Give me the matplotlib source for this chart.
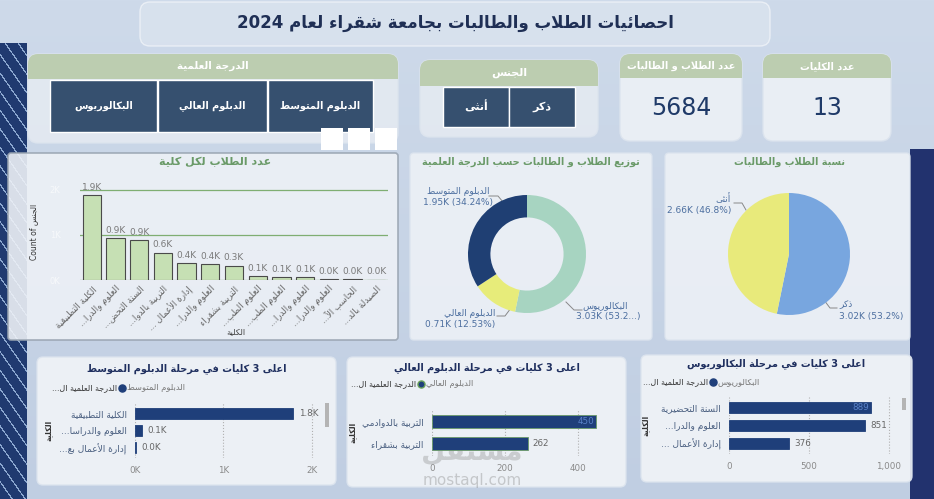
import numpy as np
import matplotlib
matplotlib.use('Agg')
import matplotlib.pyplot as plt
from matplotlib.patches import FancyBboxPatch, Rectangle

W, H = 934, 499

# ---- data ----
colleges = ['الكلية التطبيقية', 'العلوم والدرا...', 'السنة التحض...', 'التربية بالدوا...',
            'إدارة الأعمال ...', 'العلوم والدرا...', 'التربية بشقراء', 'العلوم الطب...',
            'العلوم الطب...', 'العلوم والدرا...', 'العلوم والدرا...', 'الحاسب الآ...', 'الصيدلة بالد...']
college_counts = [1890, 930, 880, 610, 380, 360, 320, 90, 70, 70, 20, 15, 10]

degree_names = ['البكالوريوس', 'الدبلوم العالي', 'الدبلوم المتوسط']
degree_counts = [3026, 712, 1946]
degree_labels = ['3.03K (53.2...)', '0.71K (12.53%)', '1.95K (34.24%)']

gender_names = ['ذكر', 'أنثى']
gender_counts = [3024, 2660]
gender_labels = ['3.02K (53.2%)', '2.66K (46.8%)']

mid_names = ['الكلية التطبيقية', 'العلوم والدراسا...', 'إدارة الأعمال بع...']
mid_counts = [1790, 80, 10]
high_names = ['التربية بالدوادمي', 'التربية بشقراء']
high_counts = [450, 262]
bach_names = ['السنة التحضيرية', 'العلوم والدرا...', 'إدارة الأعمال ...']
bach_counts = [889, 851, 376]

# ---- tiny arabic shaper (matplotlib has no shaping / bidi) ----
FOUR = {'ئ': 0xFE89, 'ب': 0xFE8F, 'ت': 0xFE95, 'ث': 0xFE99, 'ج': 0xFE9D, 'ح': 0xFEA1,
        'خ': 0xFEA5, 'س': 0xFEB1, 'ش': 0xFEB5, 'ص': 0xFEB9, 'ض': 0xFEBD, 'ط': 0xFEC1,
        'ظ': 0xFEC5, 'ع': 0xFEC9, 'غ': 0xFECD, 'ف': 0xFED1, 'ق': 0xFED5, 'ك': 0xFED9,
        'ل': 0xFEDD, 'م': 0xFEE1, 'ن': 0xFEE5, 'ه': 0xFEE9, 'ي': 0xFEF1}
TWO = {'آ': 0xFE81, 'أ': 0xFE83, 'ؤ': 0xFE85, 'إ': 0xFE87, 'ا': 0xFE8D, 'ة': 0xFE93,
       'د': 0xFEA9, 'ذ': 0xFEAB, 'ر': 0xFEAD, 'ز': 0xFEAF, 'و': 0xFEED, 'ى': 0xFEEF,
       'لآ': 0xFEF5, 'لأ': 0xFEF7, 'لإ': 0xFEF9, 'لا': 0xFEFB}


def ar(s):
    if not any('\u0600' <= c <= '\u06ff' for c in s):
        return s
    items = []
    i = 0
    while i < len(s):
        if s[i] == 'ل' and i + 1 < len(s) and s[i:i + 2] in TWO:
            items.append(s[i:i + 2])
            i += 2
        else:
            items.append(s[i])
            i += 1
    out = []
    for k, c in enumerate(items):
        prev = items[k - 1] if k > 0 else None
        nxt = items[k + 1] if k + 1 < len(items) else None
        pj = prev in FOUR
        if c in FOUR:
            nj = (nxt in FOUR) or (nxt in TWO)
            f = 3 if (pj and nj) else 1 if pj else 2 if nj else 0
            out.append(chr(FOUR[c] + f))
        elif c in TWO:
            out.append(chr(TWO[c] + (1 if pj else 0)))
        else:
            out.append(c)
    vis = out[::-1]
    res, run = [], []
    for ch in vis:
        if ch.isascii() and (ch.isalnum() or ch in '.,%'):
            run.append(ch)
        else:
            if run:
                res.extend(run[::-1])
                run = []
            res.append(ch)
    if run:
        res.extend(run[::-1])
    return ''.join(res)


plt.rcParams['font.family'] = ['DejaVu Sans']

fig = plt.figure(figsize=(W / 100, H / 100), dpi=100)
bg = fig.add_axes([0, 0, 1, 1])
bg.set_xlim(0, W)
bg.set_ylim(H, 0)
bg.axis('off')

# background
yy, xx = np.mgrid[0:H, 0:W]
img = np.zeros((H, W, 3))
t = yy / H
img[..., 0] = 206 - 14 * t
img[..., 1] = 218 - 12 * t
img[..., 2] = 234 - 8 * t
left = (xx < 27) & (yy > 42)
img[left] = [32, 58, 112]
streak = left & (((xx - 0.7 * yy) % 13) < 1.6)
img[streak] = [140, 168, 208]
right = (xx > 909) & (yy > 148)
img[right] = [34, 50, 110]
bg.imshow(img / 255, extent=(0, W, H, 0), aspect='auto', zorder=0)


def panel(x0, y0, x1, y1, fc='#edf1f6', ec='#dce4ee', alpha=0.9, r=8, lw=1):
    bg.add_patch(FancyBboxPatch((x0, y0), x1 - x0, y1 - y0,
                                boxstyle=f"round,pad=0,rounding_size={r}",
                                fc=fc, ec=ec, alpha=alpha, lw=lw, zorder=1))


def header(x0, y0, x1, y1, r=8):
    bg.add_patch(FancyBboxPatch((x0, y0), x1 - x0, y1 - y0,
                                boxstyle=f"round,pad=0,rounding_size={r}",
                                fc='#bccdb0', ec='none', zorder=2))
    bg.add_patch(Rectangle((x0, (y0 + y1) / 2), x1 - x0, (y1 - y0) / 2,
                           fc='#bccdb0', ec='none', zorder=2))


def txt(x, y, s, size=7, color='#222222', weight='normal', ha='center', va='center', **kw):
    bg.text(x, y, ar(s), fontsize=size, color=color, fontweight=weight,
            ha=ha, va=va, zorder=6, **kw)


def px_axes(x0, y0, x1, y1):
    a = fig.add_axes([x0 / W, 1 - y1 / H, (x1 - x0) / W, (y1 - y0) / H])
    a.set_facecolor('none')
    return a


# ---- title ----
panel(140, 2, 770, 46, fc='#dbe4ef', ec='#f2f5f9', alpha=0.75, r=10)
txt(455, 23, 'احصائيات الطلاب والطالبات بجامعة شقراء لعام 2024', size=12,
    color='#1f2f55', weight='bold')

# ---- degree slicer ----
panel(28, 54, 398, 143, fc='#e4eaf2', r=10)
header(28, 54, 398, 79, r=10)
txt(213, 66, 'الدرجة العلمية', size=7.5, color='white', weight='bold')
slicer_x = [(50, 157), (158, 267), (268, 373)]
for (a, b), name in zip(slicer_x, degree_names):
    bg.add_patch(Rectangle((a, 80), b - a, 52, fc='#36506f', ec='white', lw=1, zorder=3))
    txt((a + b) / 2, 106, name, size=7, color='white', weight='bold')
for a in [321, 348, 375]:
    bg.add_patch(Rectangle((a, 128), 22, 22, fc='white', ec='none', zorder=4))

# ---- gender slicer ----
panel(420, 60, 598, 137, fc='#e4eaf2', r=10)
header(420, 60, 598, 86, r=10)
txt(509, 73, 'الجنس', size=8, color='white', weight='bold')
for (a, b), name in zip([(443, 509), (509, 575)], ['أنثى', 'ذكر']):
    bg.add_patch(Rectangle((a, 87), b - a, 40, fc='#36506f', ec='white', lw=1, zorder=3))
    txt((a + b) / 2, 107, name, size=8, color='white', weight='bold')

# ---- cards ----
cards = [(620, 742, 'عدد الطلاب و الطالبات', str(sum(gender_counts))),
         (763, 891, 'عدد الكليات', str(len(colleges)))]
for a, b, head, val in cards:
    panel(a, 54, b, 141, fc='#edf1f6', r=10)
    header(a, 54, b, 78, r=10)
    txt((a + b) / 2, 66, head, size=7, color='white', weight='bold')
    txt((a + b) / 2, 108, val, size=17, color='#1f3a68')

# ---- bar chart of colleges ----
panel(8, 153, 398, 340, fc='#edf1f6', ec='#9aa5b2', r=3, lw=1.2)
txt(215, 162, 'عدد الطلاب لكل كلية', size=8, color='#6a9a68', weight='bold')
axb = px_axes(80, 180, 388, 280)
xpos = np.arange(len(colleges))
vals = np.array(college_counts) / 1000
axb.bar(xpos, vals, width=0.77, color='#c6e0b4', edgecolor='#4a4a4a', lw=0.8, zorder=3)
axb.set_xlim(-0.5, len(colleges) - 0.5)
axb.set_ylim(0, 2.22)
axb.set_yticks([0, 1, 2])
axb.set_yticklabels(['0K', '1K', '2K'], fontsize=6, color='#f7f9fb')
axb.grid(axis='y', color='#7fae72', lw=0.9, zorder=1)
for s in axb.spines.values():
    s.set_visible(False)
axb.tick_params(length=0, pad=14)
axb.tick_params(axis='x', pad=3)
axb.set_xticks(xpos)
axb.set_xticklabels([ar(c) for c in colleges], rotation=45, ha='right',
                    rotation_mode='anchor', fontsize=6.3, color='#666666')
for xi, v in zip(xpos, vals):
    axb.text(xi, v + 0.07, f'{v:.1f}K', ha='center', va='bottom', fontsize=6.5, color='#7a7a7a')
bg.text(34, 232, 'Count of ' + ar('الجنس'), rotation=90, fontsize=5.5, color='#333333',
        ha='center', va='center', zorder=6)
txt(236, 332, 'الكلية', size=6, color='#444444')

# ---- donut ----
panel(410, 153, 652, 340, fc='#edf1f6', r=4)
txt(531, 162, 'توزيع الطلاب و الطالبات حسب الدرجة العلمية', size=7, color='#6a9a68', weight='bold')
axd = px_axes(468, 195, 586, 313)
axd.pie(degree_counts, colors=['#a7d4c1', '#e7ec7a', '#1f3f73'], startangle=90,
        counterclock=False, radius=1, wedgeprops=dict(width=0.38, edgecolor='none'))
axd.set_xlim(-1, 1)
axd.set_ylim(-1, 1)
lc = '#4d6fa0'
txt(458, 191, degree_names[2], size=6.5, color=lc)
txt(458, 202, degree_labels[2], size=6.5, color=lc)
bg.plot([489, 498, 503], [196, 196, 202], color='#888888', lw=0.7, zorder=6)
txt(605, 306, degree_names[0], size=6.5, color=lc)
txt(608, 317, degree_labels[0], size=6.5, color=lc)
bg.plot([566, 574, 582], [302, 310, 310], color='#888888', lw=0.7, zorder=6)
txt(495, 314, degree_names[1], size=6.5, color=lc, ha='right')
txt(495, 325, degree_labels[1], size=6.5, color=lc, ha='right')
bg.plot([497, 505, 511], [316, 316, 308], color='#888888', lw=0.7, zorder=6)

# ---- gender pie ----
panel(665, 153, 910, 340, fc='#edf1f6', r=4)
txt(790, 162, 'نسبة الطلاب والطالبات', size=7, color='#6a9a68', weight='bold')
axp = px_axes(728, 193, 850, 315)
axp.pie(gender_counts, colors=['#78a6df', '#e8ea7b'], startangle=90,
        counterclock=False, radius=1, wedgeprops=dict(edgecolor='none'))
axp.set_xlim(-1, 1)
axp.set_ylim(-1, 1)
txt(731, 199, gender_names[1], size=6.5, color=lc, ha='right')
txt(731, 211, gender_labels[1], size=6.5, color=lc, ha='right')
bg.plot([734, 742, 746], [203, 203, 210], color='#888888', lw=0.7, zorder=6)
txt(839, 305, gender_names[0], size=6.5, color=lc, ha='left')
txt(839, 316, gender_labels[0], size=6.5, color=lc, ha='left')
bg.plot([824, 830, 837], [300, 308, 308], color='#888888', lw=0.7, zorder=6)


# ---- top 3 bar charts ----
def top3(box, title, ty, legend, ly, lx, names, counts, ax_box, xmax, ticks, ticklabels,
         labels, inside, ylab_x, scroll=None, ring=False):
    panel(*box, fc='#f1f4f8', r=6)
    txt((box[0] + box[2]) / 2, ty, title, size=7, color='#1f2f5f', weight='bold')
    txt(lx[1] - 5, ly, 'الدرجة العلمية ال...', size=5.8, color='#333333', ha='right')
    bg.scatter([lx[1]], [ly], s=26, color='#1f3f7a',
               edgecolor='#6aa15a' if ring else '#1f3f7a', lw=1, zorder=6)
    txt(lx[1] + 5, ly, legend, size=6, color='#777777', ha='left')
    ax = px_axes(*ax_box)
    n = len(counts)
    pos = np.arange(n)
    ax.barh(pos, counts, height=0.62, color='#1f3f7a',
            edgecolor='#6a9a68' if ring else '#1f3f7a', lw=0.6, zorder=3)
    ax.set_xlim(0, xmax)
    ax.set_ylim(n - 0.4, -0.6)
    ax.set_xticks(ticks)
    ax.set_xticklabels(ticklabels, fontsize=6.3, color='#8a8a8a')
    ax.set_yticks(pos)
    ax.set_yticklabels([ar(s) for s in names], fontsize=6.5, color='#4a5f80')
    ax.grid(axis='x', color='#b0b0b0', ls=':', lw=0.8, zorder=0)
    ax.tick_params(length=0, pad=6)
    for s in ax.spines.values():
        s.set_visible(False)
    for i, (v, lab) in enumerate(zip(counts, labels)):
        if i in inside:
            ax.text(v - xmax * 0.01, i, lab, ha='right', va='center', fontsize=6.3, color='#5a82c8', zorder=5)
        else:
            ax.text(v + xmax * 0.03, i, lab, ha='left', va='center', fontsize=6.3, color='#666666', zorder=5)
    yc = (ax_box[1] + ax_box[3]) / 2
    txt(ylab_x, yc, 'الكلية', size=5.5, color='#333333', weight='bold', rotation=90)
    if scroll:
        bg.add_patch(Rectangle(scroll[:2], scroll[2], scroll[3], fc='#b4b4b4', ec='none', zorder=6))


top3((37, 357, 336, 485), 'اعلى 3 كليات في مرحلة الدبلوم المتوسط', 369,
     'الدبلوم المتوسط', 388, (45, 122), mid_names, mid_counts,
     (135, 403, 318, 458), 2070, [0, 1000, 2000], ['0K', '1K', '2K'],
     [f'{v / 1000:.1f}K' for v in mid_counts], [], 48, scroll=(325, 403, 4, 24))

top3((347, 357, 626, 487), 'اعلى 3 كليات في مرحلة الدبلوم العالي', 368,
     'الدبلوم العالي', 384, (349, 421), high_names, high_counts,
     (432, 409, 607, 456), 480, [0, 200, 400], ['0', '200', '400'],
     [str(v) for v in high_counts], [0], 352, ring=True)

top3((641, 355, 912, 482), 'اعلى 3 كليات في مرحلة البكالوريوس', 364,
     'البكالوريوس', 382, (641, 713), bach_names, bach_counts,
     (729, 397, 897, 454), 1050, [0, 500, 1000], ['0', '500', '1,000'],
     [str(v) for v in bach_counts], [0], 645, scroll=(902, 398, 4, 12))

# watermark
bg.text(472, 452, ar('مستقل'), fontsize=20, color='#8a8a8a', alpha=0.35, fontweight='bold',
        ha='center', va='center', zorder=7)
bg.text(472, 480, 'mostaql.com', fontsize=11, color='#8a8a8a', alpha=0.4,
        ha='center', va='center', zorder=7)

fig.savefig('out.png', dpi=100)
